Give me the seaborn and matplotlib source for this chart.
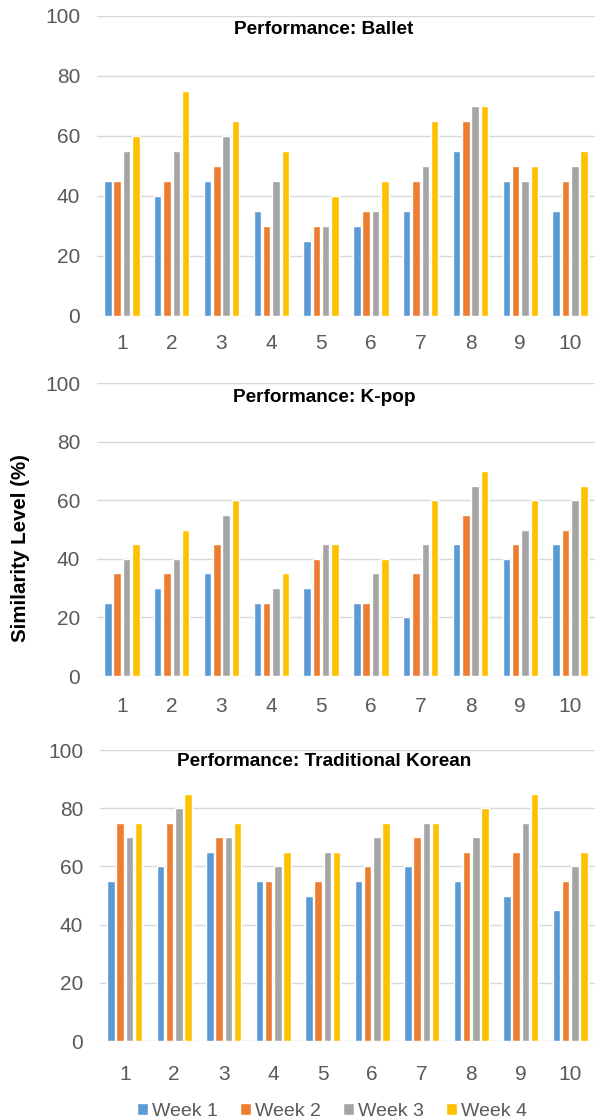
import pandas as pd
import seaborn as sns
import matplotlib.pyplot as plt

# Participants 1..10, similarity level per week
participants = [str(i) for i in range(1, 11)]
weeks = ['Week 1', 'Week 2', 'Week 3', 'Week 4']
colors = ['#5B9BD5', '#ED7D31', '#A5A5A5', '#FFC000']

ballet_w1 = [45, 40, 45, 35, 25, 30, 35, 55, 45, 35]
ballet_w2 = [45, 45, 50, 30, 30, 35, 45, 65, 50, 45]
ballet_w3 = [55, 55, 60, 45, 30, 35, 50, 70, 45, 50]
ballet_w4 = [60, 75, 65, 55, 40, 45, 65, 70, 50, 55]

kpop_w1 = [25, 30, 35, 25, 30, 25, 20, 45, 40, 45]
kpop_w2 = [35, 35, 45, 25, 40, 25, 35, 55, 45, 50]
kpop_w3 = [40, 40, 55, 30, 45, 35, 45, 65, 50, 60]
kpop_w4 = [45, 50, 60, 35, 45, 40, 60, 70, 60, 65]

trad_w1 = [55, 60, 65, 55, 50, 55, 60, 55, 50, 45]
trad_w2 = [75, 75, 70, 55, 55, 60, 70, 65, 65, 55]
trad_w3 = [70, 80, 70, 60, 65, 70, 75, 70, 75, 60]
trad_w4 = [75, 85, 75, 65, 65, 75, 75, 80, 85, 65]

titles = ['Performance: Ballet', 'Performance: K-pop', 'Performance: Traditional Korean']
series_sets = [
    [ballet_w1, ballet_w2, ballet_w3, ballet_w4],
    [kpop_w1, kpop_w2, kpop_w3, kpop_w4],
    [trad_w1, trad_w2, trad_w3, trad_w4],
]


def to_long(series):
    rows = []
    for week, vals in zip(weeks, series):
        for p, v in zip(participants, vals):
            rows.append({'Participant': p, 'Week': week, 'Similarity': v})
    return pd.DataFrame(rows)


sns.set_style('white')
plt.rcParams['font.family'] = ['Liberation Sans', 'DejaVu Sans']

fig = plt.figure(figsize=(5.95, 11.2), dpi=100)

# layout: axes rect, x tick pad, title y (figure fraction)
rects = [
    (0.163, 0.7179, 0.837, 0.2679),
    (0.163, 0.3964, 0.837, 0.2616),
    (0.168, 0.0705, 0.832, 0.2598),
]
xpads = [13.3, 14.8, 17.6]
title_y = [1 - 29 / 1120, 1 - 397 / 1120, 1 - 762 / 1120]

handles, labels = None, None
for title, series, rect, xpad, ty in zip(titles, series_sets, rects, xpads, title_y):
    ax = fig.add_axes(rect)
    df = to_long(series)
    sns.barplot(data=df, x='Participant', y='Similarity', hue='Week',
                order=participants, hue_order=weeks, palette=colors,
                width=0.75, gap=0.2, ax=ax, errorbar=None, saturation=1)
    if handles is None:
        handles, labels = ax.get_legend_handles_labels()
    ax.get_legend().remove()
    ax.set_ylim(0, 100)
    ax.set_xlim(-0.5, 9.5)
    ax.set_yticks([0, 20, 40, 60, 80, 100])
    ax.yaxis.grid(True, color='#D9D9D9', linewidth=1)
    ax.set_axisbelow(True)
    for s in ax.spines.values():
        s.set_visible(False)
    ax.tick_params(axis='both', length=0, colors='#595959', labelsize=15)
    ax.tick_params(axis='x', pad=xpad)
    ax.tick_params(axis='y', pad=12)
    ax.set_xlabel('')
    ax.set_ylabel('')
    fig.text(324 / 595, ty, title, ha='center', va='center',
             fontsize=13.7, fontweight='bold', color='black')

fig.text(0.035, 1 - 548 / 1120, 'Similarity Level (%)', rotation=90, ha='center',
         va='center', fontsize=14.8, fontweight='bold', color='black')

fig.legend(handles, labels, loc='center', bbox_to_anchor=(0.558, 0.008), ncol=4,
           frameon=False, fontsize=14, labelcolor='#595959', handlelength=0.55,
           handleheight=0.55, handletextpad=0.2, columnspacing=1.15)

fig.savefig('out.png', dpi=100)
